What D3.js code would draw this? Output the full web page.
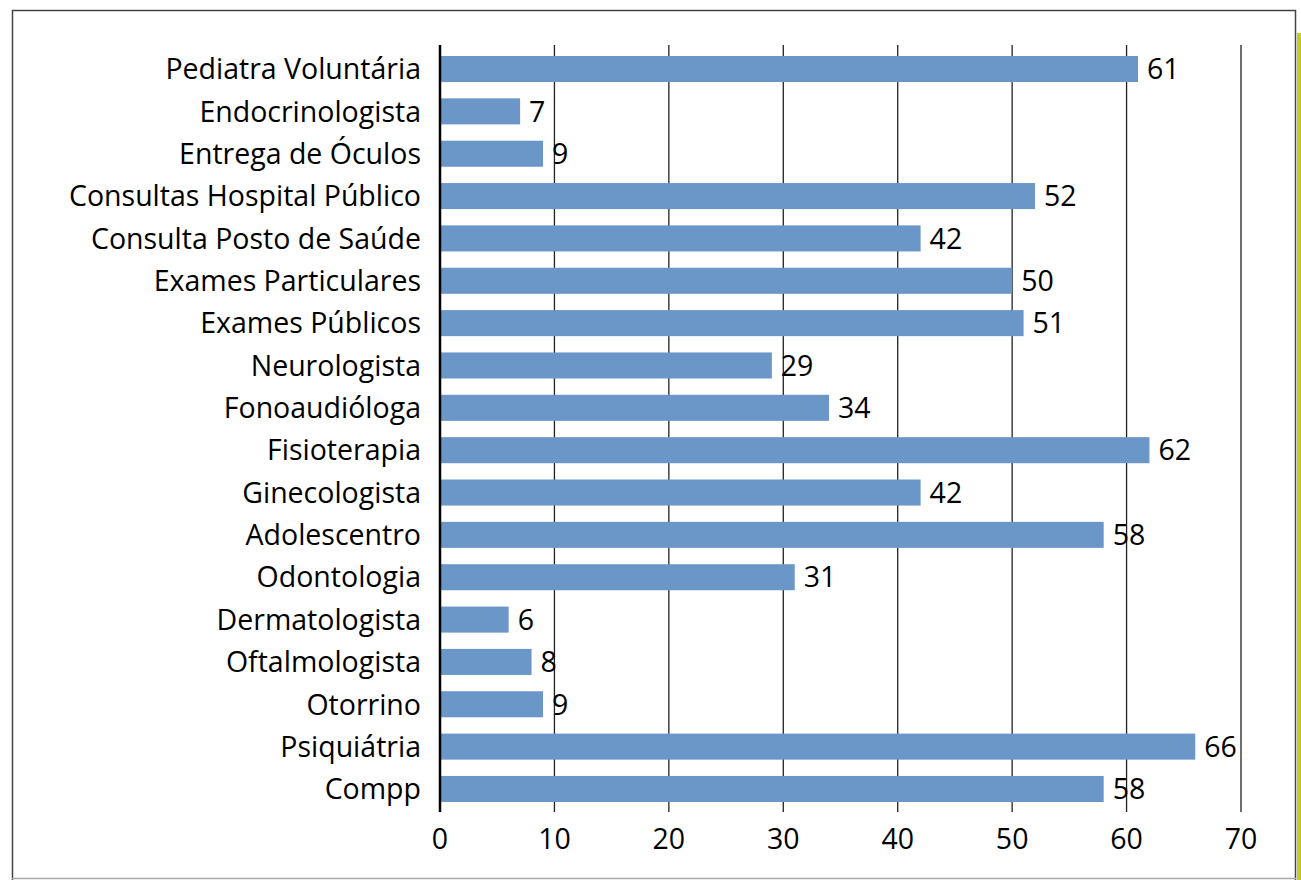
<!DOCTYPE html>
<html>
<head>
<meta charset="utf-8">
<script src="https://cdn.jsdelivr.net/npm/d3@7"></script>
<style>
  body { margin: 0; background: #fff; }
  svg text { font-family: "Open Sans", sans-serif; fill: #000; }
</style>
</head>
<body>
<div id="chart"></div>
<script>
var categories = ['Pediatra Voluntária', 'Endocrinologista', 'Entrega de Óculos', 'Consultas Hospital Público',
    'Consulta Posto de Saúde', 'Exames Particulares', 'Exames Públicos', 'Neurologista', 'Fonoaudióloga',
    'Fisioterapia', 'Ginecologista', 'Adolescentro', 'Odontologia', 'Dermatologista', 'Oftalmologista',
    'Otorrino', 'Psiquiátria', 'Compp'];
var values = [61, 7, 9, 52, 42, 50, 51, 29, 34, 62, 42, 58, 31, 6, 8, 9, 66, 58];
var xTicks = [0, 10, 20, 30, 40, 50, 60, 70];

var width = 1301, height = 880,
    fontSize = 28.5;

var svg = d3.select('#chart').append('svg')
    .attr('width', width)
    .attr('height', height);

// frame
svg.append('rect').attr('x', 12.5).attr('y', 10.5).attr('width', 1283).attr('height', 880)
    .attr('fill', 'none').attr('stroke', '#444').attr('stroke-width', 1.5);
svg.append('line').attr('x1', 12).attr('x2', 1296).attr('y1', 878.5).attr('y2', 878.5)
    .attr('stroke', '#aaa').attr('stroke-width', 1.5);
svg.append('rect').attr('x', 1297).attr('y', 33).attr('width', 4).attr('height', 847).attr('fill', '#c5c92a');

var x = d3.scaleLinear().domain([0, 70]).range([440, 1241]);
var y = d3.scaleBand().domain(categories).range([56, 802]).paddingInner(0.385).paddingOuter(0);

// grid
svg.selectAll('.grid').data(xTicks.slice(1)).enter().append('line')
    .attr('x1', d => x(d)).attr('x2', d => x(d))
    .attr('y1', 45).attr('y2', 812)
    .attr('stroke', '#222').attr('stroke-width', 1.3);

svg.selectAll('.bar').data(values).enter().append('rect')
    .attr('x', x(0))
    .attr('y', (d, i) => y(categories[i]))
    .attr('width', d => x(d) - x(0))
    .attr('height', y.bandwidth())
    .attr('fill', '#6a97c8');

svg.append('line').attr('x1', x(0)).attr('x2', x(0)).attr('y1', 45).attr('y2', 812)
    .attr('stroke', '#000').attr('stroke-width', 2.5);

svg.selectAll('.val').data(values).enter().append('text')
    .attr('x', d => x(d) + 9)
    .attr('y', (d, i) => y(categories[i]) + y.bandwidth() / 2)
    .attr('dy', '0.36em')
    .attr('font-size', fontSize)
    .text(d => d);

svg.selectAll('.cat').data(categories).enter().append('text')
    .attr('x', 421)
    .attr('y', d => y(d) + y.bandwidth() / 2)
    .attr('dy', '0.36em')
    .attr('text-anchor', 'end')
    .attr('font-size', fontSize)
    .text(d => d);

svg.selectAll('.tick').data(xTicks).enter().append('text')
    .attr('x', d => x(d))
    .attr('y', 839)
    .attr('dy', '0.36em')
    .attr('text-anchor', 'middle')
    .attr('font-size', fontSize)
    .text(d => d);
</script>
</body>
</html>
